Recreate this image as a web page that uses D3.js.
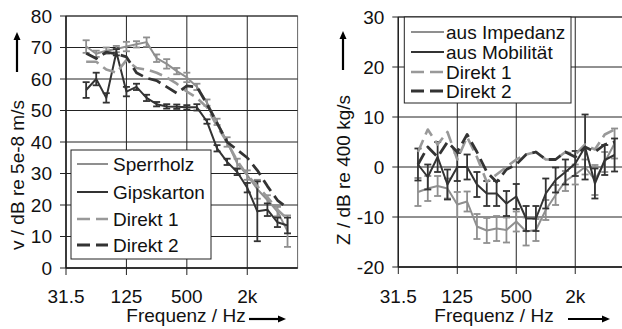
<!DOCTYPE html>
<html><head><meta charset="utf-8">
<script src="https://cdn.jsdelivr.net/npm/d3@7/dist/d3.min.js"></script>
<style>
html,body{margin:0;padding:0;background:#fff;}
svg{display:block;font-family:"Liberation Sans",Arial,sans-serif;}
</style></head>
<body><svg id="c" width="622" height="329"></svg>
<script>
// ---------- data ----------
const bands = ["31.5","40","50","63","80","100","125","160","200","250","315","400","500","630","800","1k","1.25k","1.6k","2k","2.5k","3.15k","4k","5k","6.3k"];
const dataBands = ["50","63","80","100","125","160","200","250","315","400","500","630","800","1k","1.25k","1.6k","2k","2.5k","3.15k","4k","5k"];
const tickLabels = ["31.5","125","500","2k"];

// left chart: v / dB re 5e-8 m/s
const sperrholz    = [70.3,68,69,69.5,70.3,71,71.7,66.6,64.8,62.5,60.5,57.5,52.5,46.4,40,33.2,29.5,25,21.6,17.9,11.7];
const sperrholzErr = [2,1,1,1,1.5,1,1.5,1.2,1.5,1,1.5,1,1,1,1.5,1.5,1.5,3,1.5,1.5,5];
const gipskarton    = [56.5,60,54,68.5,56,57.5,54,52,51.3,51.2,51,51,46.5,38,33.7,30.5,25.5,18,18.5,14.5,13.5];
const gipskartonErr = [2.5,2,1.5,1,1.5,1,1,0.7,0.7,0.7,0.7,1,0.7,1,1,1,1.5,9.5,2,1.5,2.5];
const direkt1L = [65.5,65.5,63,62,66,63.5,63,62,60.5,58.5,56,54,51,45,40,34,29.5,26,22.5,18.5,15.5];
const direkt2L = [68.2,66.5,68.5,68,67,62,60.3,59.5,57.5,55.5,57.8,57.5,52,46,40,37.5,35,31,26,21.5,19];
const leftTicks = [0,10,20,30,40,50,60,70,80];

// right chart: Z / dB re 400 kg/s
const impedanz    = [-5,-4.3,-3.8,-4.3,-7.5,-6.9,-11.9,-12.7,-12.3,-12.6,-10.9,-12.9,-12.6,-8.6,-5.6,-2.8,-1.5,0,-2.6,1,4.7];
const impedanzErr = [2.8,2.5,2,2,2.5,2,2.5,2.5,2.5,2.5,2,2.8,2.2,2,2,2,2,1.5,3,2,3];
const mobilitaet    = [0.5,-2,2,-3.5,0,0,-3.5,-5.3,-5.3,-7.3,-5.9,-10.3,-10.3,-5.3,-2.6,-1,0.7,4,-3.3,1.4,2.4];
const mobilitaetErr = [3.2,2.5,3,3,2.8,2.5,2.5,2.5,2.5,2.5,2.5,2.5,2.5,3,2.5,2.5,2.5,6.5,3,3,3.3];
const direkt1R = [3,7.5,4.5,7,1.5,6,2,-3,-1.5,0,1.5,2.5,3,1.5,1.5,3,2.5,4.5,3.5,6.5,7.5];
const direkt2R = [0.5,4,2,5,3,6.5,3,-1,-3,-0.5,0.5,2.5,3,1.5,1.5,3,2,4,3,4.5,5];
const rightTicks = [-20,-10,0,10,20,30];

// ---------- drawing ----------
const svg = d3.select("#c");
const FS = 19;
const LIGHT = "#8f8f8f", DARK = "#333333";

function panel(o){
  const g = svg.append("g");
  const x = d3.scalePoint().domain(bands).range([o.x0, o.x1]);
  const y = d3.scaleLinear().domain(o.yDomain).range([o.yBottom, o.yTop]);
  // plot area
  g.append("rect").attr("x",o.x0).attr("y",o.yTop).attr("width",o.x1-o.x0).attr("height",o.yBottom-o.yTop)
    .attr("fill","#fff").attr("stroke","#666").attr("stroke-width",1);
  // horizontal grid
  g.selectAll(".hg").data(o.ticks).enter().append("line")
    .attr("x1",o.x0-6).attr("x2",o.x1).attr("y1",d=>y(d)).attr("y2",d=>y(d))
    .attr("stroke","#222").attr("stroke-width",1);
  // vertical grid
  g.selectAll(".vg").data(tickLabels).enter().append("line")
    .attr("x1",d=>x(d)).attr("x2",d=>x(d)).attr("y1",o.yTop).attr("y2",o.yBottom+7)
    .attr("stroke","#222").attr("stroke-width",1);
  // axes
  g.append("line").attr("x1",o.x0).attr("x2",o.x0).attr("y1",o.yTop).attr("y2",o.yBottom).attr("stroke","#222").attr("stroke-width",1.3);
  g.append("line").attr("x1",o.x0).attr("x2",o.x1).attr("y1",y(o.yDomain[0])).attr("y2",y(o.yDomain[0])).attr("stroke","#222").attr("stroke-width",1.3);
  // y tick labels
  g.selectAll(".yl").data(o.ticks).enter().append("text")
    .attr("x",o.x0-14).attr("y",d=>y(d)).attr("dy","0.35em").attr("text-anchor","end")
    .attr("font-size",FS).attr("fill","#111").text(d=>d);
  // x tick labels
  g.selectAll(".xl").data(tickLabels).enter().append("text")
    .attr("x",d=>x(d)).attr("y",303).attr("text-anchor","middle")
    .attr("font-size",FS).attr("fill","#111").text(d=>d);
  // x title + arrow
  g.append("text").attr("x",o.xtX).attr("y",322).attr("text-anchor","middle").attr("font-size",FS).attr("fill","#111").text("Frequenz / Hz");
  arrowH(g,o.axA,o.axB,319);
  // y title + arrow
  g.append("text").attr("transform",`translate(${o.ytX},${o.ytY}) rotate(-90)`).attr("text-anchor","middle")
    .attr("dy","0.35em").attr("font-size",FS).attr("fill","#111").text(o.yTitle);
  arrowV(g,o.ytX,o.ayA,o.ayB);

  // series
  const line = d3.line().defined(d=>d.v!=null).x(d=>x(d.b)).y(d=>y(d.v));
  o.series.forEach(s=>{
    const pts = dataBands.map((b,i)=>({b, v:s.values[i], e:s.err?s.err[i]:0}));
    if(s.err){
      const eg = g.append("g");
      pts.forEach(p=>{
        const cx=x(p.b), t=y(p.v+p.e), bt=y(p.v-p.e);
        eg.append("line").attr("x1",cx).attr("x2",cx).attr("y1",t).attr("y2",bt).attr("stroke",s.color).attr("stroke-width",1.8);
        [t,bt].forEach(yy=>eg.append("line").attr("x1",cx-3.5).attr("x2",cx+3.5).attr("y1",yy).attr("y2",yy).attr("stroke",s.color).attr("stroke-width",1.8));
      });
    }
    g.append("path").datum(pts).attr("d",line).attr("fill","none").attr("stroke",s.color)
      .attr("stroke-width",s.width).attr("stroke-dasharray",s.dash||null).attr("stroke-linejoin","round");
  });
  // legend
  const L = o.legend;
  g.append("rect").attr("x",L.x).attr("y",L.y).attr("width",L.w).attr("height",L.h).attr("fill","#fff").attr("stroke","#222").attr("stroke-width",1);
  o.series.forEach((s,i)=>{
    const cy = L.rows[i];
    g.append("line").attr("x1",L.lx0).attr("x2",L.lx1).attr("y1",cy).attr("y2",cy).attr("stroke",s.color)
      .attr("stroke-width",s.width).attr("stroke-dasharray",s.dash||null);
    g.append("text").attr("x",L.tx).attr("y",cy).attr("dy","0.35em").attr("font-size",FS).attr("fill","#111").text(s.name);
  });
}
function arrowH(g,xa,xb,yy){
  g.append("line").attr("x1",xa).attr("x2",xb-6).attr("y1",yy).attr("y2",yy).attr("stroke","#000").attr("stroke-width",2.2);
  g.append("path").attr("d",`M${xb},${yy} L${xb-8},${yy-3.5} L${xb-8},${yy+3.5} Z`).attr("fill","#000");
}
function arrowV(g,xx,ya,yb){
  g.append("line").attr("x1",xx).attr("x2",xx).attr("y1",ya).attr("y2",yb+6).attr("stroke","#000").attr("stroke-width",2.2);
  g.append("path").attr("d",`M${xx},${yb} L${xx-3.5},${yb+8} L${xx+3.5},${yb+8} Z`).attr("fill","#000");
}

panel({
  x0:66, x1:297.6, yTop:16, yBottom:268, yDomain:[0,80], ticks:leftTicks,
  xtX:186, axA:249, axB:286, ytX:17, ytY:175, ayA:72, ayB:32, yTitle:"v / dB re 5e-8 m/s",
  series:[
    {name:"Sperrholz", values:sperrholz, err:sperrholzErr, color:LIGHT, width:2},
    {name:"Gipskarton", values:gipskarton, err:gipskartonErr, color:DARK, width:2},
    {name:"Direkt 1", values:direkt1L, color:"#999", width:2.6, dash:"13,6"},
    {name:"Direkt 2", values:direkt2L, color:DARK, width:2.8, dash:"13,6"}
  ],
  legend:{x:71, y:150, w:140, h:109, rows:[164,192,219,245], lx0:77, lx1:108, tx:113}
});
panel({
  x0:398.3, x1:624.4, yTop:17, yBottom:267, yDomain:[-20,30], ticks:rightTicks,
  xtX:494, axA:568, axB:610, ytX:343, ytY:170, ayA:70, ayB:31, yTitle:"Z / dB re 400 kg/s",
  series:[
    {name:"aus Impedanz", values:impedanz, err:impedanzErr, color:LIGHT, width:2},
    {name:"aus Mobilität", values:mobilitaet, err:mobilitaetErr, color:DARK, width:2},
    {name:"Direkt 1", values:direkt1R, color:"#999", width:2.6, dash:"13,6"},
    {name:"Direkt 2", values:direkt2R, color:DARK, width:2.8, dash:"13,6"}
  ],
  legend:{x:404.3, y:17, w:166.7, h:86, rows:[32,52,72,91], lx0:411, lx1:444, tx:446}
});
</script></body></html>
